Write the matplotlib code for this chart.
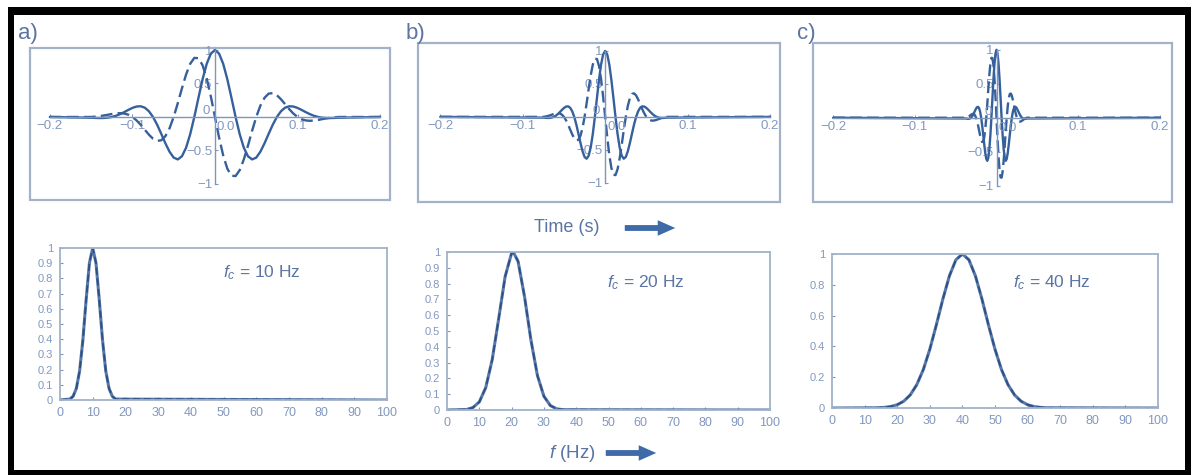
import numpy as np
import matplotlib
matplotlib.use("Agg")
import matplotlib.pyplot as plt
from matplotlib.patches import Rectangle, FancyArrowPatch
from matplotlib.transforms import offset_copy

plt.rcParams["font.family"] = ["Liberation Sans", "DejaVu Sans"]
plt.rcParams["mathtext.fontset"] = "custom"
plt.rcParams["mathtext.it"] = "Liberation Sans:italic"
plt.rcParams["mathtext.rm"] = "Liberation Sans"

# ---------------------------------------------------------------- data
panel_letters = ["a)", "b)", "c)"]
centre_freqs = [10, 20, 40]                 # Hz
sample_step_s = [0.005, 0.0025, 0.00125]    # time between wavelet samples

# Complex wavelet samples (same shape for every centre frequency,
# only the time spacing differs); 61 samples, centred on t = 0.
wavelet_real = [
    -0.011, -0.014, -0.016, -0.015, -0.011, 0.0, 0.017, 0.042, 0.072, 0.105,
    0.135, 0.156, 0.160, 0.139, 0.086, 0.0, -0.116, -0.253, -0.394, -0.519,
    -0.607, -0.634, -0.587, -0.460, -0.258, 0.0, 0.285, 0.562, 0.793, 0.946,
    1.000,
    0.946, 0.793, 0.562, 0.285, 0.0, -0.258, -0.460, -0.587, -0.634, -0.607,
    -0.519, -0.394, -0.253, -0.116, 0.0, 0.086, 0.139, 0.160, 0.156, 0.135,
    0.105, 0.072, 0.042, 0.017, 0.0, -0.011, -0.015, -0.016, -0.014, -0.011,
]
wavelet_imag = [
    0.0, 0.005, 0.012, 0.021, 0.032, 0.044, 0.053, 0.057, 0.052, 0.034,
    0.0, -0.051, -0.116, -0.191, -0.264, -0.325, -0.357, -0.348, -0.286, -0.169,
    0.0, 0.206, 0.427, 0.633, 0.794, 0.882, 0.878, 0.773, 0.576, 0.307,
    0.0,
    -0.307, -0.576, -0.773, -0.878, -0.882, -0.794, -0.633, -0.427, -0.206, 0.0,
    0.169, 0.286, 0.348, 0.357, 0.325, 0.264, 0.191, 0.116, 0.051, 0.0,
    -0.034, -0.052, -0.057, -0.053, -0.044, -0.032, -0.021, -0.012, -0.005, 0.0,
]

# Amplitude spectra
spec_a_f = [0, 3, 4, 5, 6, 7, 8, 9, 10, 11, 12, 13, 14, 15, 16, 17, 100]
spec_a = [0, 0.006, 0.024, 0.076, 0.191, 0.395, 0.662, 0.902, 1.0,
          0.902, 0.662, 0.395, 0.191, 0.076, 0.024, 0.006, 0]

spec_b_f = [0, 6, 8, 10, 12, 14, 16, 18, 20, 20.5, 22, 24, 26, 28, 30, 32,
            34, 36, 100]
spec_b = [0, 0.003, 0.015, 0.051, 0.142, 0.319, 0.578, 0.845, 0.993, 1.0,
          0.941, 0.718, 0.441, 0.218, 0.087, 0.028, 0.007, 0.002, 0]

spec_c_f = [0, 14, 16, 18, 20, 22, 24, 26, 28, 30, 32, 34, 36, 38, 40, 42,
            44, 46, 48, 50, 52, 54, 56, 58, 60, 62, 64, 66, 100]
spec_c = [0, 0.0015, 0.0039, 0.0094, 0.0211, 0.044, 0.0847, 0.151, 0.249,
          0.381, 0.539, 0.707, 0.857, 0.962, 1.0, 0.962, 0.857, 0.707, 0.539,
          0.381, 0.249, 0.151, 0.0847, 0.044, 0.0211, 0.0094, 0.0039, 0.0015, 0]

time_ticks = [-0.2, -0.1, 0.0, 0.1, 0.2]
time_tick_labels = ["\u22120.2", "\u22120.1", "", "0.1", "0.2"]
amp_ticks = [-1, -0.5, 0, 0.5, 1]
amp_tick_labels = ["\u22121", "\u22120.5", "", "0.5", "1"]
freq_ticks = [0, 10, 20, 30, 40, 50, 60, 70, 80, 90, 100]
spec_ticks_fine = [0, 0.1, 0.2, 0.3, 0.4, 0.5, 0.6, 0.7, 0.8, 0.9, 1.0]
spec_tick_labels_fine = ["0", "0.1", "0.2", "0.3", "0.4", "0.5", "0.6",
                         "0.7", "0.8", "0.9", "1"]
spec_ticks_coarse = [0, 0.2, 0.4, 0.6, 0.8, 1.0]
spec_tick_labels_coarse = ["0", "0.2", "0.4", "0.6", "0.8", "1"]

# ---------------------------------------------------------------- style
LINE = "#35609c"
FRAME = "#a3b2c9"
AXIS = "#7f96bb"
TICKTXT = "#8198bf"
TEXT = "#5a74a3"

W, H = 1194, 475
fig = plt.figure(figsize=(W / 100, H / 100), dpi=100)
fig.patch.set_facecolor("white")


def px_rect(x0, y0, x1, y1):
    """Pixel box (origin top-left) -> figure fraction rect."""
    return [x0 / W, 1 - y1 / H, (x1 - x0) / W, (y1 - y0) / H]


# ---------------------------------------------------------------- wavelets
top_boxes = [(30, 48, 390, 200), (418, 43, 780, 202), (813, 43, 1172, 202)]
top_xlims = [(-0.224, 0.212), (-0.227, 0.212), (-0.2246, 0.2148)]
top_ylims = [(-1.24, 1.03), (-1.29, 1.12), (-1.24, 1.10)]

for i in range(3):
    ax = fig.add_axes(px_rect(*top_boxes[i]))
    ax.set_facecolor("none")
    k = np.arange(len(wavelet_real)) - len(wavelet_real) // 2
    t = np.concatenate([[-0.2], k * sample_step_s[i], [0.2]])
    re = np.concatenate([[0.0], wavelet_real, [0.0]])
    im = np.concatenate([[0.0], wavelet_imag, [0.0]])
    ax.plot(t, re, color=LINE, lw=1.7, solid_capstyle="round")
    ax.plot(t, im, color=LINE, lw=1.7, ls=(0, (5, 2.2)))
    ax.set_xlim(*top_xlims[i])
    ax.set_ylim(*top_ylims[i])
    for s in ("top", "right"):
        ax.spines[s].set_visible(False)
    ax.spines["left"].set_position(("data", 0))
    ax.spines["bottom"].set_position(("data", 0))
    ax.spines["left"].set_bounds(-1, 1)
    ax.spines["bottom"].set_bounds(-0.2, 0.2)
    for s in ("left", "bottom"):
        ax.spines[s].set_color(AXIS)
        ax.spines[s].set_linewidth(1.0)
    ax.set_xticks(time_ticks, time_tick_labels)
    ax.set_yticks(amp_ticks, amp_tick_labels)
    ax.tick_params(direction="in", length=2.5, width=0.8, color=AXIS,
                   labelsize=9.5, labelcolor=TICKTXT, pad=2)
    # zero labels sit beside the crossing of the two axes
    ax.text(0, 0, "0", fontsize=9.5, color=TICKTXT, ha="right", va="bottom",
            transform=offset_copy(ax.transData, fig, x=-5, y=0, units="dots"))
    ax.text(0, 0, "0.0", fontsize=9.5, color=TICKTXT, ha="left", va="top",
            transform=offset_copy(ax.transData, fig, x=2, y=-4, units="dots"))
    ax.add_patch(Rectangle((0, 0), 1, 1, transform=ax.transAxes, fill=False,
                           ec=FRAME, lw=1.6, clip_on=False))

letter_pos = [(18, 33), (406, 33), (797, 33)]
for (x, y), lab in zip(letter_pos, panel_letters):
    fig.text(x / W, 1 - y / H, lab, fontsize=16, color=TEXT,
             ha="left", va="center")

# ---------------------------------------------------------------- spectra
bot_boxes = [(60, 248, 387, 400), (447, 252, 770, 410), (832, 254, 1158, 408)]
spec_f = [spec_a_f, spec_b_f, spec_c_f]
spec_v = [spec_a, spec_b, spec_c]
fc_pos = [(223, 273), (607, 283), (1013, 283)]

for i in range(3):
    ax = fig.add_axes(px_rect(*bot_boxes[i]))
    ax.plot(spec_f[i], spec_v[i], color="#5878a8", lw=2.2)
    ax.plot(spec_f[i], spec_v[i], color="#2c4f86", lw=1.3, ls=(0, (4, 2)))
    ax.set_xlim(0, 100)
    ax.set_ylim(0, 1)
    ax.set_xticks(freq_ticks)
    if i < 2:
        ax.set_yticks(spec_ticks_fine, spec_tick_labels_fine)
    else:
        ax.set_yticks(spec_ticks_coarse, spec_tick_labels_coarse)
    for s in ax.spines.values():
        s.set_color(FRAME)
        s.set_linewidth(1.3)
    ax.tick_params(direction="in", length=2.5, width=0.8, color=AXIS,
                   labelcolor=TICKTXT, pad=5)
    ax.tick_params(axis="x", labelsize=9)
    ax.tick_params(axis="y", labelsize=8)
    x, y = fc_pos[i]
    fig.text(x / W, 1 - y / H, r"$f_c$" + " = %d Hz" % centre_freqs[i],
             fontsize=12.5, color=TEXT, ha="left", va="center")

# ---------------------------------------------------------------- axis captions
fig.text(567 / W, 1 - 228 / H, "Time (s)", fontsize=13, color=TEXT,
         ha="center", va="center")
fig.text(572 / W, 1 - 453 / H, r"$f$" + " (Hz)", fontsize=13.5, color=TEXT,
         ha="center", va="center")
for (x0, x1, y) in [(622, 678, 228), (603, 659, 453)]:
    fig.add_artist(FancyArrowPatch(
        (x0 / W, 1 - y / H), (x1 / W, 1 - y / H), transform=fig.transFigure,
        arrowstyle="simple,head_length=0.9,head_width=0.8,tail_width=0.3",
        mutation_scale=14, color="#3f6aa8", lw=0))

# ---------------------------------------------------------------- black frame
for (x0, y0, x1, y1) in [(8, 7, 14, 475), (8, 7, 1191, 15),
                         (1185, 7, 1191, 475), (8, 470, 1191, 475)]:
    fig.add_artist(Rectangle((x0 / W, 1 - y1 / H), (x1 - x0) / W,
                             (y1 - y0) / H, transform=fig.transFigure,
                             color="black", lw=0))

fig.savefig("out.png", dpi=100)
